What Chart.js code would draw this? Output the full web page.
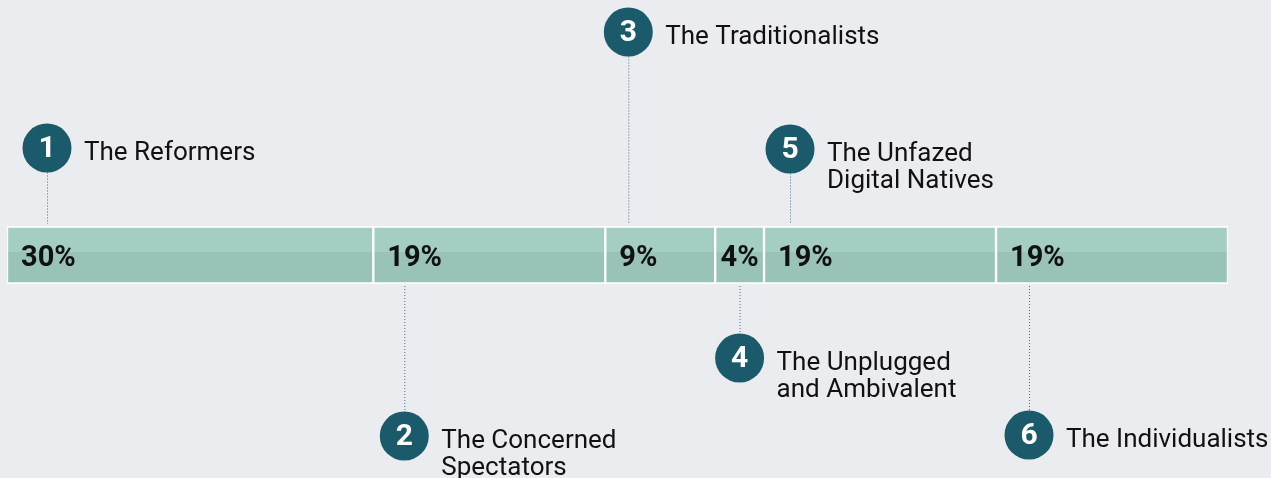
<!DOCTYPE html>
<html lang="en">
<head>
<meta charset="UTF-8">
<title>Segments</title>
<style>
  html, body { margin: 0; padding: 0; background: #ebecf0; }
  #wrap { width: 1271px; height: 478px; }
</style>
</head>
<body>
<div id="wrap"><canvas id="segChart" width="1271" height="478"></canvas></div>

<script src="https://cdn.jsdelivr.net/npm/chart.js"></script>
<script>
// data
const segmentNumbers = ['1', '2', '3', '4', '5', '6'];
const segmentNames = [
  ['The Reformers'],
  ['The Concerned', 'Spectators'],
  ['The Traditionalists'],
  ['The Unplugged', 'and Ambivalent'],
  ['The Unfazed', 'Digital Natives'],
  ['The Individualists']
];
const segmentShares = [30, 19, 9, 4, 19, 19];

const FONT = 'Roboto, "Liberation Sans", sans-serif';
const CIRCLE = '#1b5a6b';

// split fill: lighter top, darker bottom
function splitFill(ctx) {
  const chart = ctx.chart;
  const y = chart.scales.y;
  if (!y || !chart.chartArea) return '#a3cdc3';
  const mid = y.getPixelForValue(0);
  const g = chart.ctx.createLinearGradient(0, mid - 29, 0, mid + 29);
  g.addColorStop(0, '#a4cec4');
  g.addColorStop(0.44, '#a4cec4');
  g.addColorStop(0.44, '#99c2b9');
  g.addColorStop(1, '#99c2b9');
  return g;
}

// bold percentage labels inside each segment
const shareLabels = {
  id: 'shareLabels',
  afterDatasetsDraw(chart) {
    const c = chart.ctx;
    c.save();
    c.font = 'bold 29px ' + FONT;
    c.fillStyle = '#111111';
    c.textBaseline = 'middle';
    chart.data.datasets.forEach((ds, i) => {
      const bar = chart.getDatasetMeta(i).data[0];
      const left = Math.min(bar.base, bar.x);
      const w = Math.abs(bar.x - bar.base);
      const txt = ds.data[0] + '%';
      const tw = c.measureText(txt).width;
      const tx = w < 80 ? left + (w - tw) / 2 : left + 14;
      c.fillText(txt, tx, bar.y + 4);
    });
    c.restore();
  }
};

// numbered circles, names and dotted leaders
const callouts = {
  id: 'callouts',
  afterDraw(chart, args, opts) {
    const c = chart.ctx;
    c.save();
    chart.data.datasets.forEach((ds, i) => {
      const bar = chart.getDatasetMeta(i).data[0];
      const left = Math.min(bar.base, bar.x);
      const w = Math.abs(bar.x - bar.base);
      const off = opts.offsets[i];
      const cx = off === null ? left + w / 2 : left + off;
      const cy = opts.circleY[i];
      const r = 24.5;
      const top = bar.y - bar.height / 2;
      const bottom = bar.y + bar.height / 2;

      // leader
      c.strokeStyle = '#3f7386';
      c.lineWidth = 1;
      c.setLineDash([1, 2]);
      c.beginPath();
      if (cy < top) {
        c.moveTo(cx + 0.5, cy + r);
        c.lineTo(cx + 0.5, top - 2);
      } else {
        c.moveTo(cx + 0.5, bottom + 2);
        c.lineTo(cx + 0.5, cy - r);
      }
      c.stroke();
      c.setLineDash([]);

      // circle
      c.fillStyle = CIRCLE;
      c.beginPath();
      c.arc(cx, cy, r, 0, Math.PI * 2);
      c.fill();

      c.fillStyle = '#ffffff';
      c.font = 'bold 30px ' + FONT;
      c.textAlign = 'center';
      c.textBaseline = 'middle';
      c.fillText(segmentNumbers[i], cx, cy + 1);

      // name
      c.fillStyle = '#111111';
      c.font = '26px ' + FONT;
      c.textAlign = 'left';
      c.textBaseline = 'alphabetic';
      segmentNames[i].forEach((line, k) => {
        c.fillText(line, cx + 37, cy + 12 + k * 27);
      });
    });
    c.restore();
  }
};

new Chart(document.getElementById('segChart'), {
  type: 'bar',
  data: {
    labels: ['Share'],
    datasets: segmentShares.map((v, i) => ({
      label: segmentNames[i].join(' '),
      data: [v],
      backgroundColor: splitFill,
      borderColor: '#ffffff',
      borderWidth: { top: 2, bottom: 2, left: 1.5, right: 1.5 },
      borderSkipped: false,
      barThickness: 58
    }))
  },
  options: {
    indexAxis: 'y',
    responsive: false,
    animation: false,
    events: [],
    layout: { padding: { left: 7, right: 43, top: 32, bottom: 0 } },
    scales: {
      x: { stacked: true, display: false, min: 0, max: 100 },
      y: { stacked: true, display: false }
    },
    plugins: {
      legend: { display: false },
      tooltip: { enabled: false },
      callouts: {
        offsets: [40, 31, 23, null, 26, 33],
        circleY: [148, 436, 32, 358, 149, 435]
      }
    }
  },
  plugins: [shareLabels, callouts]
});
</script>
</body>
</html>
